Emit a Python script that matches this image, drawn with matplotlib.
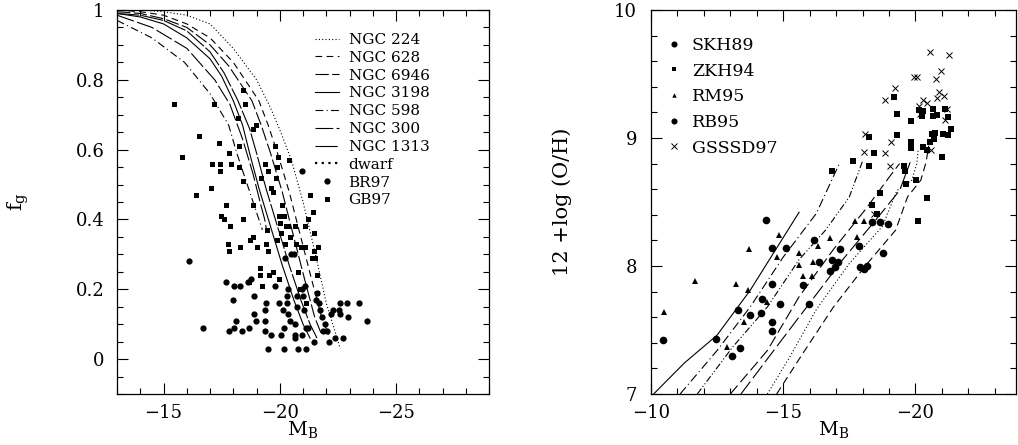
import matplotlib
matplotlib.use("Agg")
import matplotlib.pyplot as plt
from matplotlib.ticker import MultipleLocator, FuncFormatter

plt.rcParams['font.family'] = ['DejaVu Serif']
plt.rcParams['mathtext.fontset'] = 'dejavuserif'

# ---------------- left panel: gas fraction vs M_B ----------------
ngc224_mb = [-13, -14, -15, -16, -17, -18, -19, -19.6, -20.1, -20.5, -21, -21.5, -22, -22.6]
ngc224_fg = [1.0, 1.0, 0.995, 0.985, 0.96, 0.89, 0.8, 0.72, 0.64, 0.57, 0.45, 0.31, 0.16, 0.03]
ngc628_mb = [-13, -14, -15, -16, -17, -18, -18.6, -19.1, -19.5, -19.9, -20.4, -20.9, -21.4, -21.8, -22.1]
ngc628_fg = [1.0, 0.995, 0.985, 0.96, 0.92, 0.85, 0.79, 0.74, 0.67, 0.59, 0.48, 0.35, 0.22, 0.12, 0.07]
ngc6946_mb = [-13, -14, -15, -16, -17, -17.8, -18.3, -18.8, -19.2, -19.6, -20.1, -20.6, -21.1, -21.5, -21.8]
ngc6946_fg = [0.995, 0.99, 0.975, 0.95, 0.9, 0.84, 0.79, 0.74, 0.67, 0.59, 0.48, 0.35, 0.22, 0.12, 0.07]
ngc3198_mb = [-13, -14, -15, -16, -17, -17.5, -18.0, -18.4, -18.7, -19.1, -19.6, -20.1, -20.6, -21.0, -21.3]
ngc3198_fg = [0.99, 0.98, 0.96, 0.92, 0.86, 0.81, 0.74, 0.67, 0.59, 0.49, 0.38, 0.27, 0.17, 0.10, 0.06]
ngc598_mb = [-13, -14.5, -15.9, -17.0, -17.8, -18.15, -18.6, -18.95, -19.15, -19.25]
ngc598_fg = [0.97, 0.92, 0.85, 0.76, 0.67, 0.59, 0.5, 0.43, 0.39, 0.37]
ngc300_mb = [-13, -14.5, -16, -17.2, -17.85, -18.4, -18.85, -19.15, -19.35, -19.43]
ngc300_fg = [0.985, 0.95, 0.89, 0.8, 0.73, 0.63, 0.53, 0.45, 0.40, 0.37]
ngc1313_mb = [-13, -14, -15, -16, -17, -17.6, -18.2, -18.7, -19.0, -19.4, -19.9, -20.4, -20.9, -21.3, -21.6]
ngc1313_fg = [0.99, 0.985, 0.97, 0.94, 0.88, 0.82, 0.74, 0.66, 0.59, 0.49, 0.38, 0.27, 0.17, 0.10, 0.06]

gb97_mb = [-15.43, -17.17, -16.52, -17.39, -15.80, -17.07, -17.43, -17.43, -17.90, -17.83, -18.26,
           -18.19, -18.41, -18.52, -18.84, -18.99, -18.26, -18.41, -19.17, -19.38, -19.49, -19.64,
           -19.71, -19.81, -19.93, -19.86, -19.83, -20.39, -17.06, -16.38, -17.68, -18.84, -17.49,
           -17.61, -18.43, -17.87, -17.75, -17.83, -18.30, -18.70, -18.84, -19.03, -19.46, -19.49,
           -19.42, -19.96, -20.10, -20.03, -20.01, -20.17, -20.07, -20.25, -20.36, -20.65, -20.43,
           -20.22, -20.70, -19.90, -20.90, -21.09, -21.09, -21.20, -21.30, -21.42, -21.45, -21.45,
           -21.64, -21.38, -21.52, -21.59, -19.13, -19.13, -19.23, -19.52, -19.72, -19.97, -20.77,
           -20.87, -18.67, -21.12, -21.62]
gb97_fg = [0.73, 0.73, 0.64, 0.62, 0.58, 0.56, 0.56, 0.54, 0.56, 0.59, 0.61,
           0.69, 0.77, 0.73, 0.66, 0.67, 0.55, 0.51, 0.52, 0.56, 0.54, 0.49,
           0.48, 0.61, 0.58, 0.55, 0.52, 0.57, 0.49, 0.47, 0.44, 0.44, 0.41,
           0.40, 0.40, 0.38, 0.33, 0.31, 0.32, 0.34, 0.35, 0.32, 0.37, 0.31,
           0.33, 0.41, 0.44, 0.41, 0.39, 0.41, 0.36, 0.38, 0.38, 0.38, 0.35,
           0.33, 0.33, 0.34, 0.32, 0.32, 0.38, 0.40, 0.47, 0.42, 0.36, 0.31,
           0.32, 0.29, 0.29, 0.24, 0.26, 0.24, 0.21, 0.24, 0.25, 0.23, 0.25,
           0.20, 0.22, 0.16, 0.19]

br97_mb = [-16.09, -16.70, -17.68, -18.04, -18.12, -18.00, -17.80, -18.04, -18.38, -18.67, -18.30,
           -18.62, -18.74, -18.91, -18.87, -18.99, -19.39, -19.35, -19.35, -19.35, -19.49, -19.61,
           -19.81, -19.97, -20.04, -20.14, -20.19, -20.19, -20.33, -20.36, -20.33, -20.36, -20.43,
           -20.65, -20.65, -20.65, -20.72, -20.72, -20.22, -20.46, -20.94, -20.99, -21.06, -20.80,
           -21.13, -20.94, -21.13, -21.23, -21.45, -21.59, -21.57, -21.67, -21.74, -21.81, -21.93,
           -21.86, -22.03, -22.10, -22.22, -22.29, -22.39, -22.54, -22.61, -22.72, -22.61, -22.94,
           -22.90, -23.41, -23.77, -20.94, -20.62, -21.09]
br97_fg = [0.28, 0.09, 0.22, 0.21, 0.11, 0.17, 0.08, 0.09, 0.08, 0.09, 0.21,
           0.22, 0.23, 0.18, 0.13, 0.11, 0.16, 0.14, 0.11, 0.08, 0.03, 0.07,
           0.21, 0.16, 0.07, 0.14, 0.09, 0.03, 0.16, 0.13, 0.18, 0.20, 0.11,
           0.10, 0.07, 0.06, 0.15, 0.18, 0.29, 0.30, 0.20, 0.18, 0.14, 0.03,
           0.03, 0.07, 0.09, 0.09, 0.05, 0.19, 0.17, 0.16, 0.14, 0.12, 0.10,
           0.08, 0.08, 0.05, 0.13, 0.14, 0.06, 0.14, 0.16, 0.06, 0.13, 0.12,
           0.16, 0.16, 0.11, 0.54, 0.30, 0.21]

# ---------------- right panel: metallicity vs M_B ----------------
r_solid_mb = [-10.1, -11.25, -12.5, -13.75, -14.75, -15.6]
r_solid_oh = [7.0, 7.24, 7.46, 7.81, 8.14, 8.42]
r_dashdot_mb = [-11.1, -12.5, -13.75, -15.0, -16.25, -17.1]
r_dashdot_oh = [7.0, 7.34, 7.68, 8.07, 8.41, 8.79]
r_dashdot2_mb = [-11.75, -13.1, -14.4, -15.6, -16.6, -17.5, -18.0]
r_dashdot2_oh = [7.0, 7.37, 7.68, 8.05, 8.28, 8.54, 8.82]
r_long1_mb = [-13.0, -14.4, -15.6, -16.9, -18.1, -19.1, -19.4]
r_long1_oh = [7.0, 7.34, 7.76, 8.13, 8.44, 8.72, 8.80]
r_long2_mb = [-13.4, -14.75, -16.0, -17.25, -18.5, -19.4, -19.8]
r_long2_oh = [7.0, 7.37, 7.71, 8.05, 8.36, 8.59, 8.81]
r_dot_mb = [-14.4, -15.25, -16.25, -17.5, -18.75, -19.3, -19.86, -20.05, -20.1]
r_dot_oh = [7.0, 7.29, 7.66, 8.02, 8.31, 8.59, 8.67, 8.8, 8.9]
r_dash_mb = [-14.75, -15.75, -16.9, -18.1, -19.25, -19.7, -20.2, -20.4, -20.5]
r_dash_oh = [7.0, 7.32, 7.68, 8.0, 8.28, 8.54, 8.67, 8.81, 8.94]

skh89_mb = [-10.46, -12.46, -13.28, -13.38, -13.08, -13.76, -14.15, -14.18, -14.58, -14.58, -14.58, -14.58]
skh89_oh = [7.42, 7.43, 7.66, 7.36, 7.30, 7.62, 7.63, 7.74, 8.14, 7.86, 7.56, 7.49]
rb95_mb = [-14.36, -14.86, -15.09, -15.74, -15.96, -16.15, -16.36, -16.86, -16.75, -16.96, -17.08,
           -17.14, -17.86, -17.89, -18.05, -18.18, -18.36, -18.65, -18.76, -18.96]
rb95_oh = [8.36, 7.70, 8.14, 7.85, 7.70, 8.20, 8.03, 8.05, 7.96, 7.99, 8.03,
           8.13, 8.16, 7.99, 7.98, 8.00, 8.34, 8.34, 8.10, 8.33]
rm95_mb = [-10.51, -11.68, -13.21, -13.68, -13.71, -13.51, -12.89, -14.38, -14.78, -14.84, -15.59,
           -15.59, -15.74, -16.08, -16.11, -16.33, -16.75, -17.71, -17.78, -18.05]
rm95_oh = [7.64, 7.88, 7.86, 7.81, 8.13, 7.56, 7.37, 7.72, 8.07, 8.24, 8.10,
           8.01, 7.92, 7.92, 8.03, 8.16, 8.22, 8.35, 8.23, 8.35]
zkh94_mb = [-16.83, -17.64, -18.25, -18.24, -18.43, -18.34, -18.65, -18.55, -19.20, -19.30, -19.30,
            -19.55, -19.61, -19.63, -19.83, -19.84, -19.84, -20.03, -20.10, -20.14, -20.24, -20.30,
            -20.43, -20.45, -20.55, -20.68, -20.68, -20.61, -20.71, -20.74, -20.80, -21.00, -21.05,
            -21.11, -21.24, -21.24, -21.36, -20.30]
zkh94_oh = [8.74, 8.82, 8.78, 9.01, 8.88, 8.48, 8.57, 8.41, 9.32, 9.19, 9.02,
            8.78, 8.74, 8.64, 9.13, 8.97, 8.92, 8.67, 8.35, 9.22, 9.17, 8.93,
            8.53, 8.91, 8.97, 9.23, 9.17, 9.03, 8.99, 9.04, 9.18, 8.85, 9.03,
            9.23, 9.02, 9.16, 9.07, 9.21]
gsssd97_mb = [-20.55, -21.26, -19.93, -20.05, -20.96, -20.78, -19.24, -18.84, -20.90, -20.80, -21.08,
              -20.30, -20.43, -20.15, -20.18, -21.18, -21.11, -18.11, -19.08, -18.05, -18.84, -19.05,
              -20.59, -18.43]
gsssd97_oh = [9.67, 9.65, 9.48, 9.48, 9.52, 9.46, 9.39, 9.30, 9.36, 9.31, 9.33,
              9.30, 9.27, 9.25, 9.19, 9.23, 9.14, 9.03, 8.97, 8.89, 8.88, 8.78,
              8.91, 8.41]


def style_axes(ax, ypad):
    ax.tick_params(which='both', direction='in', top=True, right=True, labelsize=13)
    ax.tick_params(which='major', length=8, width=0.8)
    ax.tick_params(which='minor', length=4.5, width=0.8)
    ax.tick_params(axis='x', pad=7)
    ax.tick_params(axis='y', pad=ypad)
    for s in ax.spines.values():
        s.set_linewidth(0.9)


fig = plt.figure(figsize=(10.18, 4.45), dpi=100)
fmt = FuncFormatter(lambda v, p: '%g' % v if v >= 0 else '\u2212%g' % -v)

# left panel
ax1 = fig.add_axes([0.115, 0.1146, 0.3654, 0.863])
lw = 0.8
ax1.plot(ngc224_mb, ngc224_fg, color='k', lw=lw, ls=(0, (1, 2)), label='NGC 224')
ax1.plot(ngc628_mb, ngc628_fg, color='k', lw=lw, ls=(0, (6, 4)), label='NGC 628')
ax1.plot(ngc6946_mb, ngc6946_fg, color='k', lw=lw, ls=(0, (12, 3)), label='NGC 6946')
ax1.plot(ngc3198_mb, ngc3198_fg, color='k', lw=lw, ls='-', label='NGC 3198')
ax1.plot(ngc598_mb, ngc598_fg, color='k', lw=lw, ls=(0, (7, 3, 1, 3)), label='NGC 598')
ax1.plot(ngc300_mb, ngc300_fg, color='k', lw=lw, ls=(0, (16, 3)), label='NGC 300')
ax1.plot(ngc1313_mb, ngc1313_fg, color='k', lw=lw, ls=(0, (20, 2)), label='NGC 1313')
ax1.plot([], [], color='k', lw=1.6, ls=(0, (1, 2)), label='dwarf')
ax1.plot(br97_mb, br97_fg, 'o', color='k', ms=4.5, mew=0, label='BR97')
ax1.plot(gb97_mb, gb97_fg, 's', color='k', ms=3.6, mew=0, label='GB97')

ax1.set_xlim(-13, -29)
ax1.set_ylim(-0.1, 1.0)
ax1.xaxis.set_major_locator(MultipleLocator(5))
ax1.xaxis.set_minor_locator(MultipleLocator(1))
ax1.yaxis.set_major_locator(MultipleLocator(0.2))
ax1.yaxis.set_minor_locator(MultipleLocator(0.05))
ax1.xaxis.set_major_formatter(fmt)
ax1.yaxis.set_major_formatter(fmt)
style_axes(ax1, 9)
ax1.set_xlabel(r'M$_{\rm B}$', fontsize=14, labelpad=-2)
ax1.set_ylabel(r'f$_{\rm g}$', fontsize=15, labelpad=32)
ax1.legend(loc='upper left', bbox_to_anchor=(0.532, 0.94), frameon=False, fontsize=11,
           handlelength=1.6, handletextpad=0.6, labelspacing=0.25, borderpad=0,
           borderaxespad=0, numpoints=1)

# right panel
ax2 = fig.add_axes([0.6395, 0.1146, 0.3585, 0.863])
ax2.plot(r_solid_mb, r_solid_oh, color='k', lw=lw, ls='-')
ax2.plot(r_dashdot_mb, r_dashdot_oh, color='k', lw=lw, ls=(0, (8, 3, 1, 3)))
ax2.plot(r_dashdot2_mb, r_dashdot2_oh, color='k', lw=lw, ls=(0, (6, 2, 1, 2, 1, 2)))
ax2.plot(r_long1_mb, r_long1_oh, color='k', lw=lw, ls=(0, (10, 4)))
ax2.plot(r_long2_mb, r_long2_oh, color='k', lw=lw, ls=(0, (14, 4)))
ax2.plot(r_dot_mb, r_dot_oh, color='k', lw=lw, ls=(0, (1, 2)))
ax2.plot(r_dash_mb, r_dash_oh, color='k', lw=lw, ls=(0, (7, 4)))
ax2.plot(skh89_mb, skh89_oh, 'o', color='k', ms=5.5, mew=0, label='SKH89')
ax2.plot(zkh94_mb, zkh94_oh, 's', color='k', ms=4.2, mew=0, label='ZKH94')
ax2.plot(rm95_mb, rm95_oh, '^', color='k', ms=4, mew=0, label='RM95')
ax2.plot(rb95_mb, rb95_oh, 'o', color='k', ms=5.5, mew=0, label='RB95')
ax2.plot(gsssd97_mb, gsssd97_oh, 'x', color='k', ms=5, mew=0.7, label='GSSSD97')

ax2.set_xlim(-10, -23.8)
ax2.set_ylim(7, 10)
ax2.xaxis.set_major_locator(MultipleLocator(5))
ax2.xaxis.set_minor_locator(MultipleLocator(1))
ax2.yaxis.set_major_locator(MultipleLocator(1))
ax2.yaxis.set_minor_locator(MultipleLocator(0.2))
ax2.xaxis.set_major_formatter(fmt)
ax2.yaxis.set_major_formatter(fmt)
style_axes(ax2, 10)
ax2.set_xlabel(r'M$_{\rm B}$', fontsize=14, labelpad=-2)
ax2.set_ylabel('12 +log (O/H)', fontsize=15, labelpad=30)
ax2.legend(loc='upper left', bbox_to_anchor=(0.045, 0.93), frameon=False, fontsize=12.5,
           handlelength=0.8, handletextpad=0.6, labelspacing=0.5, borderpad=0,
           borderaxespad=0, numpoints=1, markerscale=0.8)

fig.savefig('out.png', dpi=100)
